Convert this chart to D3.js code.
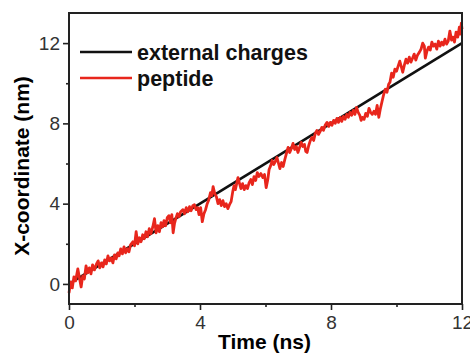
<!DOCTYPE html>
<html>
<head>
<meta charset="utf-8">
<script src="https://cdn.jsdelivr.net/npm/d3@7"></script>
<style>
  body { margin: 0; background: #fff; }
  svg { display: block; }
</style>
</head>
<body>
<svg id="chart" width="470" height="354"></svg>
<script>
// external charges: straight line
var chargeTime = [0, 12];
var chargePos  = [0, 12];

// peptide trajectory
var peptideTime = [
  0.00,0.05,0.10,0.15,0.20,0.27,0.32,0.37,0.42,0.47,0.52,0.57,0.62,0.67,0.72,0.78,0.84,0.89,0.94,0.99,
  1.04,1.09,1.14,1.19,1.24,1.29,1.34,1.39,1.44,1.49,1.53,1.58,1.63,1.68,1.73,1.78,1.83,1.88,1.95,2.00,
  2.05,2.10,2.15,2.20,2.25,2.30,2.35,2.40,2.45,2.50,2.56,2.61,2.66,2.71,2.76,2.81,2.86,2.90,2.95,3.00,
  3.05,3.10,3.14,3.18,3.22,3.26,3.31,3.36,3.41,3.48,3.53,3.58,3.63,3.68,3.73,3.78,3.83,3.88,3.93,3.97,
  4.02,4.07,4.12,4.17,4.22,4.27,4.32,4.36,4.40,4.45,4.50,4.55,4.60,4.65,4.70,4.75,4.80,4.85,4.90,4.95,
  5.00,5.04,5.08,5.12,5.16,5.20,5.25,5.30,5.35,5.40,5.45,5.50,5.55,5.60,5.65,5.70,5.75,5.80,5.86,5.92,
  5.97,6.02,6.07,6.11,6.16,6.20,6.25,6.30,6.35,6.40,6.44,6.49,6.54,6.59,6.64,6.69,6.74,6.79,6.84,6.89,
  6.94,6.99,7.04,7.09,7.14,7.19,7.23,7.27,7.32,7.37,7.42,7.47,7.52,7.57,7.62,7.67,7.72,7.77,7.82,7.88,
  7.93,7.98,8.03,8.08,8.13,8.18,8.23,8.28,8.33,8.38,8.43,8.48,8.53,8.58,8.63,8.68,8.73,8.78,8.83,8.88,
  8.92,8.96,9.01,9.06,9.11,9.16,9.21,9.26,9.31,9.36,9.41,9.46,9.51,9.56,9.61,9.66,9.71,9.76,9.80,9.85,
  9.90,9.95,10.00,10.05,10.10,10.15,10.19,10.24,10.29,10.34,10.39,10.44,10.49,10.54,10.59,10.64,10.70,10.75,10.80,10.85,
  10.88,10.93,10.98,11.03,11.08,11.13,11.18,11.23,11.28,11.33,11.38,11.43,11.48,11.53,11.58,11.63,11.68,11.72,11.77,11.82,
  11.87,11.92,11.95,11.98,12.00
];
var peptidePos = [
  -0.45,0.10,-0.20,0.35,0.15,0.75,0.30,-0.15,0.40,0.25,0.90,0.55,0.80,0.50,0.95,0.70,1.00,1.15,0.80,1.05,
  0.85,1.20,1.00,1.40,1.15,1.30,1.05,1.45,1.25,1.55,1.40,1.75,1.50,1.85,1.55,1.75,1.60,1.95,2.10,1.90,
  2.60,2.00,2.30,2.10,2.45,2.25,2.60,2.35,2.75,2.50,2.85,3.25,2.55,2.90,2.60,3.05,2.85,3.15,2.90,3.30,
  3.40,3.05,3.45,2.55,3.00,3.25,3.50,3.35,3.60,3.70,3.50,3.80,3.60,3.85,3.65,3.90,3.95,3.70,3.80,3.45,
  3.80,3.10,3.50,3.70,4.00,4.20,4.55,4.40,4.85,4.50,4.35,4.00,4.20,3.90,4.15,3.85,4.00,3.75,3.95,4.10,
  4.60,4.90,4.70,5.00,5.30,5.05,4.75,5.00,4.70,4.90,4.75,5.05,5.20,4.95,5.35,5.15,5.55,5.35,5.50,5.30,
  5.45,4.80,5.20,5.70,5.90,6.15,5.95,6.10,6.30,6.00,5.75,6.05,5.85,6.20,6.50,6.80,6.55,6.75,7.00,6.70,
  6.85,6.55,6.80,7.05,6.85,6.95,6.60,6.55,6.90,7.15,7.30,7.15,7.50,7.65,7.45,7.60,7.80,7.65,7.90,8.05,
  7.85,8.05,7.90,8.15,8.00,8.25,8.05,8.30,8.10,8.35,8.20,8.45,8.30,8.55,8.40,8.65,8.45,8.80,8.55,8.40,
  8.15,8.30,8.20,8.50,8.35,8.75,8.55,8.45,8.60,8.45,8.90,8.30,8.75,9.10,9.45,9.70,9.55,9.95,10.05,10.50,
  10.30,10.70,10.60,10.85,11.10,10.80,10.55,10.90,11.20,11.00,11.30,11.05,11.25,11.45,11.15,11.40,11.55,11.70,12.00,11.85,
  11.25,11.60,11.80,11.65,12.05,11.85,11.95,11.70,12.10,11.85,12.05,11.90,12.20,11.95,12.10,12.60,12.15,12.30,12.05,12.55,
  12.30,12.80,12.45,13.00,12.70
];

var xTicks = [0, 4, 8, 12];
var xMinor = [2, 6, 10];
var yTicks = [0, 4, 8, 12];
var yMinor = [2, 6, 10];

var seriesNames  = ["external charges", "peptide"];
var seriesColors = ["#111111", "#e8261c"];

var svg = d3.select("#chart");
var m = {left: 69, right: 462, top: 13, bottom: 304};

var x = d3.scaleLinear().domain([0, 12]).range([m.left, m.right]);
var y = d3.scaleLinear().domain([-1, 13.5]).range([m.bottom, m.top]);

var line = d3.line()
  .x(function(d){ return x(d[0]); })
  .y(function(d){ return y(d[1]); });

var chargeData  = chargeTime.map(function(t, i){ return [t, chargePos[i]]; });
var peptideData = peptideTime.map(function(t, i){ return [t, peptidePos[i]]; });

// lines
svg.append("path")
  .datum(chargeData)
  .attr("d", line)
  .attr("fill", "none")
  .attr("stroke", seriesColors[0])
  .attr("stroke-width", 2.6);

svg.append("path")
  .datum(peptideData)
  .attr("d", line)
  .attr("fill", "none")
  .attr("stroke", seriesColors[1])
  .attr("stroke-width", 2.8)
  .attr("stroke-linejoin", "round");

// axes
svg.append("g")
  .attr("transform", "translate(0," + m.bottom + ")")
  .call(d3.axisBottom(x).tickValues(xTicks).tickSize(6).tickPadding(6));
svg.append("g")
  .attr("transform", "translate(0," + m.bottom + ")")
  .call(d3.axisBottom(x).tickValues(xMinor).tickSize(3).tickFormat(""));

svg.append("g")
  .attr("transform", "translate(" + m.left + ",0)")
  .call(d3.axisLeft(y).tickValues(yTicks).tickSize(6).tickPadding(3));
svg.append("g")
  .attr("transform", "translate(" + m.left + ",0)")
  .call(d3.axisLeft(y).tickValues(yMinor).tickSize(3).tickFormat(""));

svg.selectAll(".domain").remove();
svg.selectAll(".tick line").attr("stroke", "#222").attr("stroke-width", 1.6);
svg.selectAll(".tick text")
  .attr("fill", "#333")
  .style("font-family", "'Liberation Sans', Arial, sans-serif")
  .style("font-size", "19px");

// frame
svg.append("rect")
  .attr("x", m.left).attr("y", m.top)
  .attr("width", m.right - m.left).attr("height", m.bottom - m.top)
  .attr("fill", "none")
  .attr("stroke", "#222")
  .attr("stroke-width", 2);

// axis titles
svg.append("text")
  .attr("x", (m.left + m.right) / 2 - 1)
  .attr("y", 349)
  .attr("text-anchor", "middle")
  .style("font-family", "'Liberation Sans', Arial, sans-serif")
  .style("font-weight", "bold")
  .style("font-size", "21px")
  .text("Time (ns)");

svg.append("text")
  .attr("transform", "translate(29,166) rotate(-90)")
  .attr("text-anchor", "middle")
  .style("font-family", "'Liberation Sans', Arial, sans-serif")
  .style("font-weight", "bold")
  .style("font-size", "21px")
  .text("X-coordinate (nm)");

// legend
var legend = svg.append("g");
seriesNames.forEach(function(name, i){
  var ly = 52 + i * 26;
  legend.append("line")
    .attr("x1", 80).attr("x2", 132)
    .attr("y1", ly).attr("y2", ly)
    .attr("stroke", seriesColors[i])
    .attr("stroke-width", 2.6);
  legend.append("text")
    .attr("x", 137).attr("y", ly)
    .attr("dy", "0.35em")
    .style("font-family", "'Liberation Sans', Arial, sans-serif")
    .style("font-weight", "bold")
    .style("font-size", "21.5px")
    .attr("fill", "#111")
    .text(name);
});
</script>
</body>
</html>
